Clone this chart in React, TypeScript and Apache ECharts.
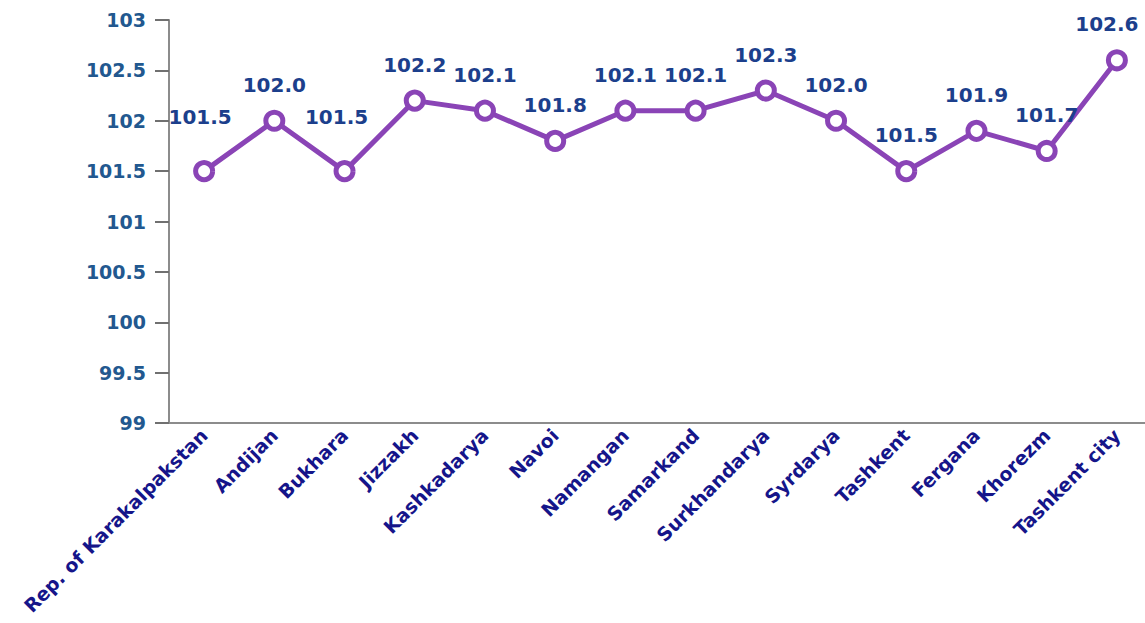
import React, { useEffect, useRef } from "react";
import * as echarts from "echarts";

const categories = [
  "Rep. of Karakalpakstan",
  "Andijan",
  "Bukhara",
  "Jizzakh",
  "Kashkadarya",
  "Navoi",
  "Namangan",
  "Samarkand",
  "Surkhandarya",
  "Syrdarya",
  "Tashkent",
  "Fergana",
  "Khorezm",
  "Tashkent city",
];
const values = [101.5, 102.0, 101.5, 102.2, 102.1, 101.8, 102.1, 102.1, 102.3, 102.0, 101.5, 101.9, 101.7, 102.6];
const yMin = 99;
const yMax = 103;
const yStep = 0.5;

const PURPLE = "#8a44b6";
const FONT = "DejaVu Sans";

export default function App() {
  const ref = useRef<HTMLDivElement>(null);
  useEffect(() => {
    if (!ref.current) return;
    const chart = echarts.init(ref.current, undefined, { renderer: "svg" });
    const data = values.map((v, i) => {
      const item: any = { value: v };
      if (i === 0) item.label = { offset: [-4, -18] };
      if (i === 2) item.label = { offset: [-8, -18] };
      if (i === values.length - 1) item.label = { offset: [-10, 0] };
      return item;
    });
    chart.setOption({
      animation: false,
      grid: {
        left: 169,
        right: 8,
        top: 20,
        bottom: 200,
        containLabel: false,
        outerBoundsMode: "none",
      },
      xAxis: {
        type: "category",
        data: categories,
        boundaryGap: true,
        axisLine: { lineStyle: { color: "#8c8c8c", width: 2 } },
        axisTick: { alignWithLabel: true, length: 9, lineStyle: { color: "#707070", width: 2 } },
        axisLabel: {
          rotate: 45,
          interval: 0,
          color: "#15158a",
          fontFamily: FONT,
          fontWeight: "bold",
          fontSize: 19,
          margin: 9,
        },
      },
      yAxis: {
        type: "value",
        min: yMin,
        max: yMax,
        interval: yStep,
        splitLine: { show: false },
        axisLine: { show: true, lineStyle: { color: "#8c8c8c", width: 2 } },
        axisTick: { show: true, length: 14, lineStyle: { color: "#707070", width: 2 } },
        axisLabel: {
          color: "#22588f",
          fontFamily: FONT,
          fontWeight: "bold",
          fontSize: 19,
          margin: 23,
        },
      },
      series: [
        {
          type: "line",
          data,
          symbol: "circle",
          symbolSize: 17,
          lineStyle: { color: PURPLE, width: 5 },
          itemStyle: { color: "#ffffff", borderColor: PURPLE, borderWidth: 5 },
          label: {
            show: true,
            position: "top",
            distance: 15,
            formatter: (p: any) => Number(p.value).toFixed(1),
            color: "#1c3f8c",
            fontFamily: FONT,
            fontWeight: "bold",
            fontSize: 20,
          },
        },
      ],
    });
    return () => chart.dispose();
  }, []);
  return (
    <div
      ref={ref}
      style={{ position: "fixed", left: 0, top: 0, width: 1160, height: 623, background: "#fff" }}
    />
  );
}
